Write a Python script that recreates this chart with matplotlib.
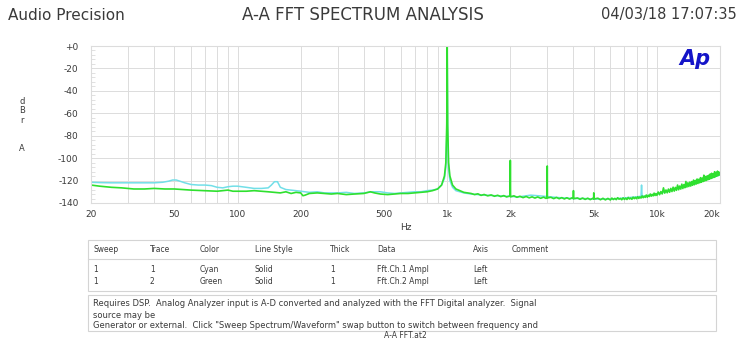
"""Audio Precision A-A FFT spectrum analysis plot."""
import numpy as np
import matplotlib
matplotlib.use("Agg")
import matplotlib.pyplot as plt
from matplotlib.patches import Rectangle
from matplotlib.ticker import FixedLocator, MultipleLocator, NullFormatter

# Trace 1 (cyan) - Fft.Ch.1 Ampl, Hz / dBrA
cyan_hz = [20, 22, 25, 28, 32, 36, 40, 44, 47, 49, 51, 53, 56, 60, 65, 70,
           75, 80, 85, 90, 95, 100, 110, 120, 130, 140, 145, 150, 155, 160,
           170, 180, 190, 200, 220, 240, 260, 280, 300, 330, 360, 400, 440,
           480, 520, 560, 600, 650, 700, 750, 800, 850, 900, 940, 970, 985,
           995, 1000, 1005, 1015, 1030, 1060, 1100, 1200, 1300, 1500, 1700,
           1900, 2200, 2500, 2700, 2900, 3300, 3600, 4000, 4500, 5000, 5500,
           6000, 6500, 7000, 7500, 8000, 8400, 8450, 8500, 9000, 10000,
           11000, 12000, 13000, 14000, 14900, 15000, 15100, 16000, 18000,
           20000]
cyan_db = [-121.5, -121.8, -122, -122, -122, -122, -122, -121.5, -120.5,
           -119.5, -119.5, -120.5, -122, -123.5, -124, -124, -124.5, -126,
           -126.5, -125.5, -125, -125, -126, -127, -127, -126.5, -124, -121,
           -121, -126, -128, -128.5, -129, -129.5, -130.5, -130, -131, -131,
           -131, -130.5, -131.5, -131, -130, -130, -131, -131.5, -131, -130.5,
           -130, -130, -129, -128.5, -127.5, -124, -118, -108, -80, -2, -80,
           -110, -120, -126, -129, -131, -132, -133, -133.5, -134, -134.5,
           -133, -133.5, -134, -135, -135.5, -136, -136, -136.5, -136.5,
           -136.5, -136, -135.5, -135, -134.5, -134, -124, -134, -133.5,
           -132, -130, -128, -126, -124, -123, -120, -123, -121, -118,
           -115]

# Trace 2 (green) - Fft.Ch.2 Ampl, low band up to the 1 kHz tone
green_lo_hz = [20, 22, 25, 28, 32, 36, 40, 45, 50, 55, 60, 70, 80, 90, 95,
               100, 110, 120, 130, 140, 150, 160, 170, 180, 190, 200, 205,
               210, 220, 240, 260, 280, 300, 330, 360, 400, 430, 450, 480,
               520, 560, 600, 650, 700, 750, 800, 850, 900, 940, 970, 985,
               995, 1000, 1005, 1015, 1030, 1060, 1100, 1150, 1200]
green_lo_db = [-124, -125, -126, -126.5, -127.5, -127.5, -127, -127.5,
               -127.5, -128, -128.5, -129, -129.5, -128.5, -129.5, -129.5,
               -129.5, -129, -129.5, -130, -130.5, -131, -130, -131.5,
               -130.5, -131, -133.5, -133, -131.5, -131, -131.5, -132,
               -131.5, -132.5, -132, -131.5, -130, -131, -132, -132.5, -132,
               -131.5, -131.5, -131, -130.5, -130, -129, -127.5, -124, -116,
               -104, -70, -1, -70, -104, -116, -124, -127.5, -129, -130.5]

# Trace 2 (green) above the tone: noisy floor with harmonics
green_hi = [
    (1300, -131.5), (1350, -132.5), (1400, -131.8), (1450, -133.2),
    (1500, -132.4), (1560, -133.6), (1620, -132.8), (1680, -134.0),
    (1740, -133.1), (1800, -134.3), (1860, -133.4), (1920, -134.6),
    (1980, -133.8), (1995, -134.0), (2000, -102.0), (2005, -134.5),
    (2080, -133.6), (2150, -134.9), (2220, -134.0), (2300, -135.2),
    (2380, -134.2), (2460, -135.4), (2540, -134.5), (2620, -135.6),
    (2700, -134.6), (2790, -135.8), (2880, -134.8), (2960, -135.9),
    (2995, -135.0), (3000, -107.0), (3005, -135.5), (3120, -134.9),
    (3220, -136.1), (3320, -135.0), (3420, -136.2), (3520, -135.2),
    (3620, -136.4), (3720, -135.3), (3830, -136.5), (3940, -135.4),
    (3995, -136.0), (4000, -129.0), (4005, -136.2), (4180, -135.5),
    (4300, -136.7), (4420, -135.6), (4550, -136.8), (4680, -135.7),
    (4810, -137.0), (4950, -135.8), (4995, -136.0), (5000, -131.0),
    (5005, -136.5), (5230, -135.7), (5380, -137.1), (5530, -135.8),
    (5680, -137.2), (5840, -135.9),
    (6000, -137.3), (6100, -135.6), (6200, -136.9), (6300, -135.9),
    (6400, -137.0), (6500, -135.3), (6600, -136.6), (6700, -136.0),
    (6800, -137.1), (6900, -135.4), (7000, -136.8), (7100, -135.7),
    (7200, -136.9), (7300, -135.0), (7400, -136.4), (7500, -135.6),
    (7600, -136.7), (7700, -134.8), (7800, -136.1), (7900, -135.0),
    (8000, -136.2), (8100, -134.4), (8200, -135.9), (8300, -134.6),
    (8400, -135.6), (8500, -133.7), (8600, -135.3), (8700, -133.9),
    (8800, -135.0), (8900, -132.9), (9000, -134.8), (9100, -133.1),
    (9200, -134.2), (9300, -132.0), (9400, -133.9), (9500, -132.3),
    (9600, -133.6), (9700, -131.2), (9800, -133.3), (9900, -131.6),
    (10000, -133.2), (10150, -130.2), (10300, -132.6), (10450, -129.8),
    (10600, -131.9), (10750, -126.5), (10900, -131.2), (11050, -128.4),
    (11200, -130.9), (11350, -127.6), (11500, -130.4), (11650, -127.0),
    (11800, -129.8), (11950, -125.9), (12100, -129.4), (12250, -126.1),
    (12400, -128.7), (12550, -124.0), (12700, -128.2), (12850, -124.9),
    (13000, -127.6), (13150, -123.2), (13300, -127.1), (13450, -123.6),
    (13600, -126.4), (13750, -120.8), (13900, -125.8), (14050, -122.0),
    (14200, -125.3), (14350, -121.4), (14500, -124.9), (14650, -120.9),
    (14800, -124.2), (14950, -119.6), (15100, -123.7), (15250, -119.9),
    (15400, -123.1), (15550, -118.6), (15700, -122.6), (15850, -118.9),
    (16000, -122.0), (16150, -117.4), (16300, -121.5), (16450, -117.8),
    (16600, -120.9), (16750, -115.2), (16900, -120.4), (17050, -116.4),
    (17200, -119.9), (17350, -115.9), (17500, -119.3), (17650, -115.3),
    (17800, -118.8), (17950, -114.2), (18100, -118.2), (18250, -113.5),
    (18400, -117.6), (18550, -113.9), (18700, -117.2), (18850, -112.1),
    (19000, -116.6), (19150, -112.8), (19300, -116.1), (19450, -111.6),
    (19600, -115.5), (19750, -112.3), (19900, -115.0), (20000, -113.5),
]

x_ticks = [20, 50, 100, 200, 500, 1000, 2000, 5000, 10000, 20000]
x_labels = ["20", "50", "100", "200", "500", "1k", "2k", "5k", "10k", "20k"]
y_ticks = [0, -20, -40, -60, -80, -100, -120, -140]
y_labels = ["+0", "-20", "-40", "-60", "-80", "-100", "-120", "-140"]

table_cols = ["Sweep", "Trace", "Color", "Line Style", "Thick", "Data",
              "Axis", "Comment"]
table_rows = [["1", "1", "Cyan", "Solid", "1", "Fft.Ch.1 Ampl", "Left", ""],
              ["1", "2", "Green", "Solid", "1", "Fft.Ch.2 Ampl", "Left", ""]]
notes = ["Requires DSP.  Analog Analyzer input is A-D converted and analyzed "
         "with the FFT Digital analyzer.  Signal",
         "source may be",
         "Generator or external.  Click \"Sweep Spectrum/Waveform\" swap "
         "button to switch between frequency and"]

W, H = 741, 342
TXT = "#3a3a3a"
GRID = "#dcdcdc"

fig = plt.figure(figsize=(W / 100, H / 100), dpi=100)
fig.patch.set_facecolor("white")


def fx(px):
    return px / W


def fy(py):
    return 1 - py / H


ax = fig.add_axes([fx(91), fy(203), fx(720) - fx(91), fy(46) - fy(203)])

green_hz = green_lo_hz + [p[0] for p in green_hi]
green_db = green_lo_db + [p[1] for p in green_hi]

ax.plot(cyan_hz, cyan_db, color="#72dfe8", lw=1.1)
ax.plot(green_hz, green_db, color="#2fe02f", lw=1.2)

ax.set_xscale("log")
ax.set_xlim(20, 20000)
ax.set_ylim(-140, 0)
ax.xaxis.set_major_locator(FixedLocator(x_ticks))
ax.xaxis.set_minor_locator(FixedLocator(
    [m * 10 ** e for e in range(1, 5) for m in range(1, 10)]))
ax.xaxis.set_minor_formatter(NullFormatter())
ax.set_xticklabels(x_labels)
ax.set_yticks(y_ticks)
ax.set_yticklabels(y_labels)
ax.yaxis.set_minor_locator(MultipleLocator(4))

ax.grid(True, which="both", axis="x", color=GRID, lw=0.7)
ax.grid(True, which="major", axis="y", color=GRID, lw=0.7)
ax.set_axisbelow(True)
for sp in ax.spines.values():
    sp.set_color(GRID)
    sp.set_linewidth(0.8)
ax.tick_params(axis="both", which="both", length=0, colors=TXT, labelsize=6.5)
ax.tick_params(axis="y", which="minor", length=3, direction="in",
               color=GRID, width=0.6)
ax.tick_params(axis="x", pad=5)
ax.tick_params(axis="y", pad=9)

# last x label sits inside the right edge as in the original
lbls = ax.get_xticklabels()
lbls[-1].set_horizontalalignment("right")

ax.set_xlabel("Hz", fontsize=6.5, color=TXT, labelpad=3)
fig.text(fx(22), fy(97), "d\nB\nr\n\n\nA", fontsize=6, color=TXT,
         ha="center", va="top", linespacing=1.05)

ax.text(0.985, 0.92, "Ap", transform=ax.transAxes, ha="right", va="center",
        fontsize=15, fontweight="bold", fontstyle="italic", color="#1414c8")

# header
fig.text(fx(8), fy(15), "Audio Precision", fontsize=11, color=TXT,
         ha="left", va="center")
fig.text(fx(363), fy(15), "A-A FFT SPECTRUM ANALYSIS", fontsize=12,
         color=TXT, ha="center", va="center")
fig.text(fx(737), fy(15), "04/03/18 17:07:35", fontsize=10.5, color=TXT,
         ha="right", va="center")

# legend table
box_kw = dict(transform=fig.transFigure, fill=False, ec="#d4d4d4", lw=0.8)
fig.patches.append(Rectangle((fx(88), fy(291)), fx(716) - fx(88),
                             fy(240) - fy(291), **box_kw))
fig.add_artist(plt.Line2D([fx(88), fx(716)], [fy(259), fy(259)],
                          color="#d4d4d4", lw=0.8))
fig.patches.append(Rectangle((fx(88), fy(331)), fx(716) - fx(88),
                             fy(295) - fy(331), **box_kw))

col_x = [93, 150, 200, 255, 330, 377, 473, 512]
for cx, name in zip(col_x, table_cols):
    fig.text(fx(cx), fy(250), name, fontsize=5.5, color=TXT, va="center")
for ry, row in zip([270, 281], table_rows):
    for cx, val in zip(col_x, row):
        fig.text(fx(cx), fy(ry), val, fontsize=5.5, color=TXT, va="center")

for ny, line in zip([304, 315, 326], notes):
    fig.text(fx(93), fy(ny), line, fontsize=6, color=TXT, va="center")
fig.text(fx(405), fy(336), "A-A FFT.at2", fontsize=5.5, color=TXT,
         ha="center", va="center")

fig.savefig("out.png", dpi=100)
plt.close(fig)
